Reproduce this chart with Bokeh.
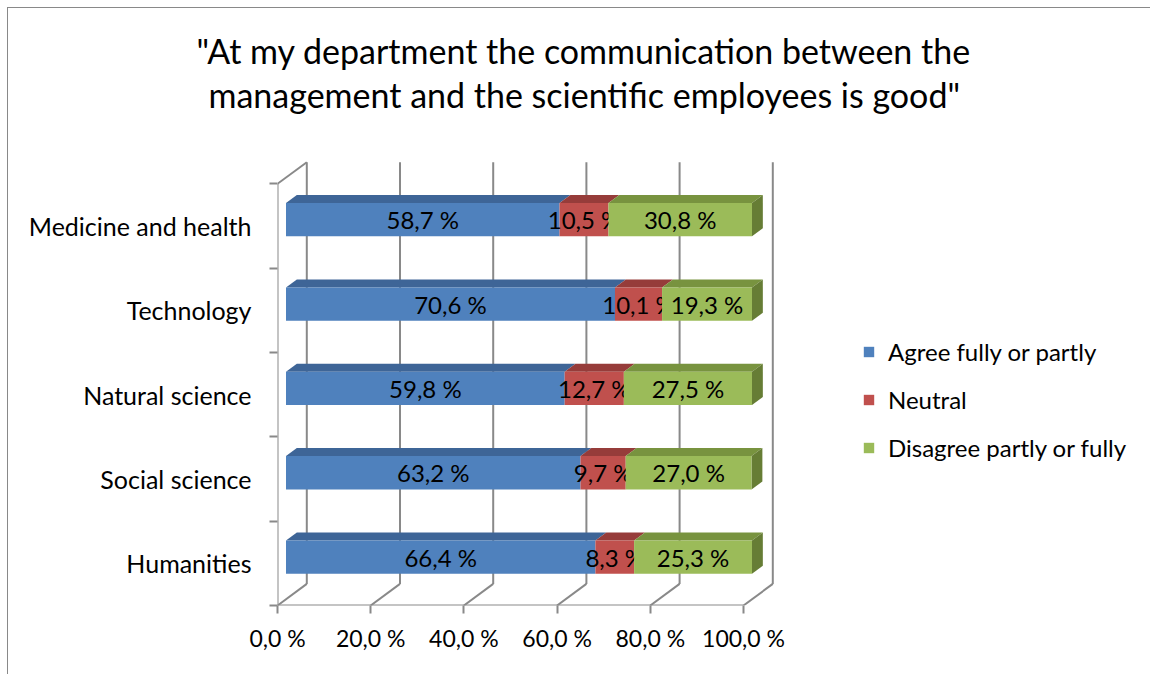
from bokeh.plotting import figure
from bokeh.models import FixedTicker, Legend, LegendItem, Title, ColumnDataSource, Range1d
from bokeh.embed import file_html
from bokeh.resources import INLINE
from bokeh.core.properties import value

# ---------------- data ----------------
categories = ["Humanities", "Social science", "Natural science", "Technology", "Medicine and health"]
series_names = ["Agree fully or partly", "Neutral", "Disagree partly or fully"]
agree = [66.4, 63.2, 59.8, 70.6, 58.7]
neutral = [8.3, 9.7, 12.7, 10.1, 10.5]
disagree = [25.3, 27.0, 27.5, 19.3, 30.8]
x_ticks = [0, 20, 40, 60, 80, 100]
x_tick_labels = ["0,0 %", "20,0 %", "40,0 %", "60,0 %", "80,0 %", "100,0 %"]
title_lines = ['"At my department the communication between the',
               'management and the scientific employees is good"']

# ---------------- style ----------------
front_colors = ["#4F81BD", "#C0504D", "#9BBB59"]
top_colors = ["#3E6597", "#963C3A", "#78933F"]
side_color = "#667D35"
grid_color = "#898989"
FONT = "Lato"

W, H = 1143, 667
LEFT_B, TOP_B, BOTTOM_B = 269, 142, 70
PX_X = 4.66     # pixels per percent
PX_Y = 84.34    # pixels per category
DX = 29.3 / PX_X   # depth offset (x, data units)
DY = 21.6 / PX_Y   # depth offset (y, data units)
F1, F2 = 0.29, 0.66
BAR_H = 33.3 / PX_Y
n = len(categories)

x_end = (W - LEFT_B) / PX_X
y_end = (H - BOTTOM_B - TOP_B) / PX_Y

p = figure(width=W, height=H, output_backend="svg", toolbar_location=None,
           x_range=Range1d(0, x_end), y_range=Range1d(0, y_end),
           min_border_left=LEFT_B, min_border_right=0, min_border_top=TOP_B,
           min_border_bottom=BOTTOM_B)
p.outline_line_color = None
p.grid.visible = False
p.background_fill_color = "white"
p.border_fill_color = "white"
p.styles = {"margin-left": "7px", "margin-top": "7px",
            "border-left": "1px solid #898989", "border-top": "1px solid #898989"}

# ---------------- title ----------------
p.title = Title(text=title_lines[0], align="left", offset=-81, standoff=1,
                text_font=FONT, text_font_size="34px", text_font_style="normal",
                text_color="black")
# spacer between the title block and the plot area
p.add_layout(Title(text=" ", standoff=32, text_font_size="1px"), "above")
p.add_layout(Title(text=title_lines[1], align="left", offset=-69, standoff=1,
                   text_font=FONT, text_font_size="34px", text_font_style="normal",
                   text_color="black"), "above")

# ---------------- axes ----------------
xa = p.xaxis[0]
xa.ticker = FixedTicker(ticks=x_ticks)
xa.major_label_overrides = {t: l for t, l in zip(x_ticks, x_tick_labels)}
xa.axis_line_color = None
xa.major_tick_in = 0
xa.major_tick_out = 8
xa.major_tick_line_color = grid_color
xa.major_tick_line_width = 2
xa.major_label_standoff = 10
xa.major_label_text_font = FONT
xa.major_label_text_font_size = "23px"
xa.major_label_text_color = "black"

ya = p.yaxis[0]
centers = [i + 0.5 for i in range(n)]
ya.ticker = FixedTicker(ticks=centers, minor_ticks=list(range(n + 1)))
ya.major_label_overrides = {c: l for c, l in zip(centers, categories)}
ya.axis_line_color = None
ya.major_tick_in = 0
ya.major_tick_out = 0
ya.minor_tick_in = 0
ya.minor_tick_out = 8
ya.minor_tick_line_color = grid_color
ya.minor_tick_line_width = 2
ya.major_label_standoff = 18
ya.major_label_text_font = FONT
ya.major_label_text_font_size = "25px"
ya.major_label_text_color = "black"

# ---------------- walls / grid ----------------
x0s, y0s, x1s, y1s = [], [], [], []
x0s.append(0); y0s.append(0); x1s.append(x_ticks[-1]); y1s.append(0)
x0s.append(0); y0s.append(0); x1s.append(0); y1s.append(n)
x0s.append(0); y0s.append(n); x1s.append(DX); y1s.append(n + DY)
for t in x_ticks:
    x0s.append(t); y0s.append(0); x1s.append(t + DX); y1s.append(DY)
    x0s.append(t + DX); y0s.append(DY); x1s.append(t + DX); y1s.append(n + DY)
p.segment(x0s, y0s, x1s, y1s, line_color=grid_color, line_width=2)

# ---------------- bars ----------------
series = [agree, neutral, disagree]
starts = [0.0] * n
legend_items = []
for s, vals in enumerate(series):
    lefts = [starts[i] + F1 * DX for i in range(n)]
    rights = [starts[i] + vals[i] + F1 * DX for i in range(n)]
    bottoms = [centers[i] + F1 * DY - BAR_H / 2 for i in range(n)]
    tops = [centers[i] + F1 * DY + BAR_H / 2 for i in range(n)]
    dd_x = (F2 - F1) * DX
    dd_y = (F2 - F1) * DY
    # top faces
    txs = [[lefts[i], rights[i], rights[i] + dd_x, lefts[i] + dd_x] for i in range(n)]
    tys = [[tops[i], tops[i], tops[i] + dd_y, tops[i] + dd_y] for i in range(n)]
    p.patches(txs, tys, fill_color=top_colors[s], line_color=None)
    if s == len(series) - 1:
        sxs = [[rights[i], rights[i] + dd_x, rights[i] + dd_x, rights[i]] for i in range(n)]
        sys_ = [[bottoms[i], bottoms[i] + dd_y, tops[i] + dd_y, tops[i]] for i in range(n)]
        p.patches(sxs, sys_, fill_color=side_color, line_color=None)
    src = ColumnDataSource(dict(left=lefts, right=rights, bottom=bottoms, top=tops))
    r = p.quad(left="left", right="right", bottom="bottom", top="top", source=src,
               fill_color=front_colors[s], line_color=None)
    legend_items.append(LegendItem(label=series_names[s], renderers=[r]))
    lsrc = ColumnDataSource(dict(
        x=[(lefts[i] + rights[i]) / 2 for i in range(n)],
        y=[(bottoms[i] + tops[i]) / 2 for i in range(n)],
        t=[("%.1f %%" % v).replace(".", ",") for v in vals]))
    p.text(x="x", y="y", text="t", source=lsrc, text_align="center", text_baseline="middle",
           text_font=value(FONT), text_font_size=value("24px"), text_color="black")
    starts = [starts[i] + vals[i] for i in range(n)]

# ---------------- legend ----------------
legend = Legend(items=legend_items, location=(585, 143), glyph_width=13, glyph_height=13,
                label_standoff=13, spacing=19, padding=0, margin=0,
                border_line_color=None, background_fill_alpha=0,
                label_text_font=FONT, label_text_font_size="24px", label_text_color="black")
p.add_layout(legend)

open("out.html", "w").write(file_html(p, INLINE))
